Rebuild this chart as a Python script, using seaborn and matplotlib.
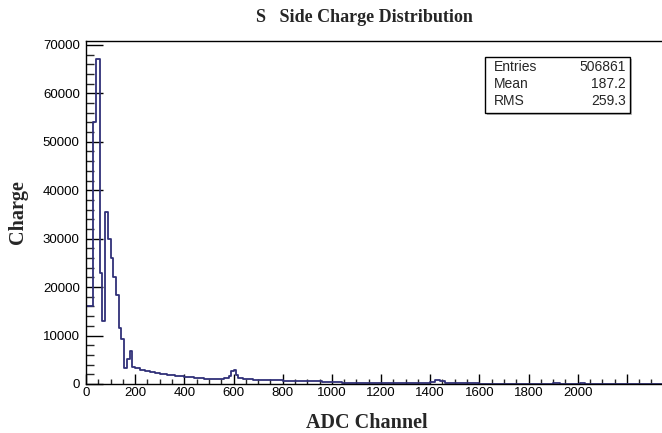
import numpy as np
import pandas as pd
import matplotlib
matplotlib.use("Agg")
import matplotlib.pyplot as plt
from matplotlib.patches import Rectangle
from matplotlib.ticker import MultipleLocator, FixedFormatter
import seaborn as sns

# ---------------- data ----------------
bin_edges = [0, 30, 42, 56, 64, 76, 90, 100, 110, 120, 134, 142, 156, 166, 178,
             186, 198, 220, 240, 260, 280, 300, 330, 360, 400, 440, 480, 520,
             560, 580, 590, 600, 610, 620, 640, 680, 720, 800, 860, 900, 960,
             1040, 1200, 1400, 1420, 1440, 1460, 1520, 1600, 1900, 1930, 1960,
             2010, 2030, 2400]
bin_counts = [16000, 54000, 67000, 23000, 13000, 35500, 30000, 26000, 22000,
              18300, 11500, 9300, 3400, 5200, 6900, 3500, 3300, 2900, 2600,
              2400, 2200, 2000, 1800, 1600, 1400, 1200, 1100, 1000, 1200,
              1700, 2600, 2900, 1900, 1300, 1100, 900, 800, 650, 700, 600,
              500, 300, 250, 450, 800, 550, 250, 120, 60, 250, 60, 40, 220, 40]

x_tick_values = [0, 200, 400, 600, 800, 1000, 1200, 1400, 1600, 1800, 2000,
                 2200, 2400]
x_tick_labels = ["0", "200", "400", "600", "800", "1000", "1200", "1400",
                 "1600", "1800", "2000", "", ""]

stat_names = ["Entries", "Mean", "RMS"]
stat_values = ["506861", "187.2", "259.3"]

title_text = "S   Side Charge Distribution"
x_label = "ADC Channel"
y_label = "Charge"

# ---------------- build table ----------------
edges = [float(e) for e in bin_edges]
centers = [(a + b) / 2 for a, b in zip(edges[:-1], edges[1:])]
df = pd.DataFrame({"adc": centers, "charge": bin_counts})

# ---------------- figure ----------------
sns.set_style("ticks")
plt.rcParams["font.family"] = ["Liberation Sans", "DejaVu Sans"]

W, H = 662, 433
fig = plt.figure(figsize=(W / 100, H / 100), dpi=100)

ax_left, ax_right, ax_top, ax_bottom = 86, 676, 41, 384
ax = fig.add_axes([ax_left / W, 1 - ax_bottom / H,
                   (ax_right - ax_left) / W, (ax_bottom - ax_top) / H])

line_color = "#303078"
sns.histplot(data=df, x="adc", weights="charge", bins=edges, element="step",
             fill=False, color=line_color, linewidth=1.3, ax=ax)

ax.set_xlim(0, 2400)
ax.set_ylim(0, 70800)

ax.set_xticks(x_tick_values)
ax.xaxis.set_major_formatter(FixedFormatter(x_tick_labels))
ax.xaxis.set_minor_locator(MultipleLocator(50))
ax.yaxis.set_major_locator(MultipleLocator(10000))
ax.yaxis.set_minor_locator(MultipleLocator(2000))

ax.tick_params(axis="y", which="major", direction="in", length=12, width=1.0,
               pad=4.5, labelsize=9.5, colors="black")
ax.tick_params(axis="y", which="minor", direction="in", length=6, width=1.0)
ax.tick_params(axis="x", which="major", direction="in", length=7.5, width=1.0,
               pad=2.5, labelsize=9.5, colors="black")
ax.tick_params(axis="x", which="minor", direction="in", length=3.8, width=1.0)

for s in ax.spines.values():
    s.set_visible(True)
    s.set_color("black")
    s.set_linewidth(1.0)

serif = ["Liberation Serif", "DejaVu Serif"]
ax.set_xlabel(x_label, fontsize=14.5, fontweight="bold", family=serif)
ax.set_ylabel(y_label, fontsize=14.5, fontweight="bold", family=serif)
axw = ax_right - ax_left
axh = ax_bottom - ax_top
ax.xaxis.label.set_va("center")
ax.yaxis.label.set_va("center")
ax.xaxis.set_label_coords((367 - ax_left) / axw, -(423 - ax_bottom) / axh)
ax.yaxis.set_label_coords((18 - ax_left) / axw, 0.5)

ax.set_title(title_text, fontsize=13, fontweight="bold", family=serif,
             x=(364 - ax_left) / axw, y=1 + (ax_top - 18) / axh, va="center",
             pad=0)

# ---------------- statistics box ----------------
bx0, bx1, by0, by1 = 485, 630, 57, 113
fig.patches.append(Rectangle((bx0 / W + 2 / W, 1 - (by1 + 2) / H),
                             (bx1 - bx0) / W, (by1 - by0) / H,
                             transform=fig.transFigure, facecolor="#bbbbbb",
                             edgecolor="none", zorder=5))
fig.patches.append(Rectangle((bx0 / W, 1 - by1 / H), (bx1 - bx0) / W,
                             (by1 - by0) / H, transform=fig.transFigure,
                             facecolor="white", edgecolor="black",
                             linewidth=1.0, zorder=6))
row_y = [67, 84, 101]
for name, val, yy in zip(stat_names, stat_values, row_y):
    fig.text(494 / W, 1 - yy / H, name, fontsize=10, ha="left", va="center",
             zorder=7)
    fig.text(626 / W, 1 - yy / H, val, fontsize=10, ha="right", va="center",
             zorder=7)

fig.savefig("out.png", dpi=100)
